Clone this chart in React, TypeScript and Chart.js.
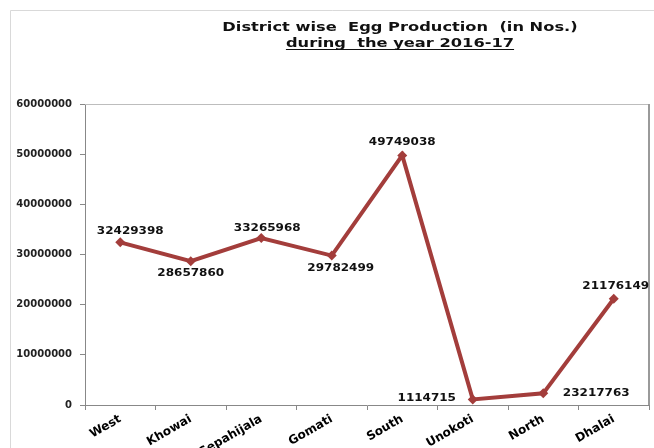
import React, { useEffect, useRef } from "react";
import { Chart, registerables } from "chart.js";

Chart.register(...registerables);

const districts = ["West", "Khowai", "Sepahijala", "Gomati", "South", "Unokoti", "North", "Dhalai"];
const eggProduction = [32429398, 28657860, 33265968, 29782499, 49749038, 1114715, 2321776, 21176149];
const valueLabels = ["32429398", "28657860", "33265968", "29782499", "49749038", "1114715", "23217763", "21176149"];
const yTickValues = [0, 10000000, 20000000, 30000000, 40000000, 50000000, 60000000];
const titleLine1 = "District wise  Egg Production  (in Nos.)";
const titleLine2 = "during  the year 2016-17";

const LINE_COLOR = "#A33D3B";
// label offsets relative to each point (dx, dy)
const LABEL_OFFSETS: [number, number][] = [
  [10, -11], [0, 12], [6, -10], [9, 13], [0, -13], [-46, -1], [53, 0], [2, -12],
];

function drawStretched(ctx: CanvasRenderingContext2D, text: string, cx: number, cy: number, sx: number) {
  ctx.save();
  ctx.translate(cx, cy);
  ctx.scale(sx, 1);
  ctx.fillText(text, 0, 0);
  ctx.restore();
}

const decorPlugin = {
  id: "decor",
  beforeDraw(chart: any) {
    const ctx = chart.ctx as CanvasRenderingContext2D;
    ctx.save();
    ctx.fillStyle = "#ffffff";
    ctx.fillRect(0, 0, chart.width, chart.height);
    ctx.strokeStyle = "#d9d9d9";
    ctx.lineWidth = 1;
    ctx.beginPath();
    ctx.moveTo(10.5, chart.height);
    ctx.lineTo(10.5, 10.5);
    ctx.lineTo(chart.width, 10.5);
    ctx.stroke();
    ctx.restore();
  },
  afterDraw(chart: any) {
    const ctx = chart.ctx as CanvasRenderingContext2D;
    const a = chart.chartArea;
    ctx.save();
    // plot area top and right border
    ctx.strokeStyle = "#bdbdbd";
    ctx.lineWidth = 1;
    ctx.beginPath();
    ctx.moveTo(a.left, a.top + 0.5);
    ctx.lineTo(a.right, a.top + 0.5);
    ctx.stroke();
    ctx.strokeStyle = "#9a9a9a";
    ctx.lineWidth = 2;
    ctx.beginPath();
    ctx.moveTo(a.right, a.top);
    ctx.lineTo(a.right, a.bottom);
    ctx.stroke();

    // title
    ctx.fillStyle = "#111";
    ctx.font = "bold 13px 'DejaVu Sans'";
    ctx.textAlign = "center";
    ctx.textBaseline = "alphabetic";
    const cx = 400;
    const sx = 1.25;
    drawStretched(ctx, titleLine1, cx, 31, sx);
    drawStretched(ctx, titleLine2, cx, 47, sx);
    const w2 = ctx.measureText(titleLine2).width * sx;
    ctx.strokeStyle = "#111";
    ctx.lineWidth = 1;
    ctx.beginPath();
    ctx.moveTo(cx - w2 / 2, 49.5);
    ctx.lineTo(cx + w2 / 2, 49.5);
    ctx.stroke();

    // data labels
    const meta = chart.getDatasetMeta(0);
    ctx.font = "bold 10px 'DejaVu Sans'";
    ctx.textBaseline = "middle";
    ctx.fillStyle = "#111";
    meta.data.forEach((pt: any, i: number) => {
      const [dx, dy] = LABEL_OFFSETS[i];
      drawStretched(ctx, valueLabels[i], pt.x + dx, pt.y + dy, 1.2);
    });
    ctx.restore();
  },
};

export default function App() {
  const ref = useRef<HTMLCanvasElement>(null);
  useEffect(() => {
    if (!ref.current) return;
    const chart = new Chart(ref.current, {
      type: "line",
      data: {
        labels: districts,
        datasets: [
          {
            data: eggProduction,
            borderColor: LINE_COLOR,
            backgroundColor: LINE_COLOR,
            borderWidth: 4,
            pointStyle: "rectRot",
            pointRadius: 5,
            pointBorderWidth: 0,
            tension: 0,
          },
        ],
      },
      options: {
        responsive: false,
        animation: false,
        layout: { padding: { top: 104, right: 4, left: 0, bottom: 0 } },
        plugins: { legend: { display: false }, tooltip: { enabled: false }, title: { display: false } },
        scales: {
          x: {
            offset: true,
            grid: { offset: true, drawOnChartArea: false, tickLength: 5, color: "#888" },
            border: { color: "#888" },
            ticks: {
              autoSkip: false,
              minRotation: 30,
              maxRotation: 30,
              padding: 2,
              color: "#000",
              font: { family: "'DejaVu Sans'", weight: "bold", size: 12 },
            },
            afterFit: (s: any) => {
              s.height = 43;
            },
          },
          y: {
            min: 0,
            max: 60000000,
            grid: { drawOnChartArea: false, tickLength: 5, color: "#888" },
            border: { color: "#888" },
            afterBuildTicks: (s: any) => {
              s.ticks = yTickValues.map((v) => ({ value: v }));
            },
            ticks: {
              padding: 8,
              color: "#222",
              font: { family: "'DejaVu Sans'", weight: "bold", size: 10 },
              callback: (v: any) => String(v),
            },
            afterFit: (s: any) => {
              s.width = 85;
            },
          },
        },
      },
      plugins: [decorPlugin],
    });
    return () => chart.destroy();
  }, []);
  return (
    <div style={{ position: "absolute", left: 0, top: 0, width: 654, height: 448 }}>
      <canvas ref={ref} width={654} height={448} />
    </div>
  );
}
